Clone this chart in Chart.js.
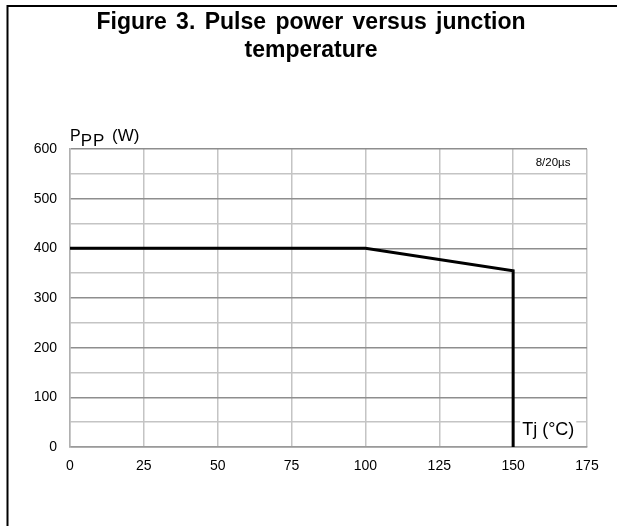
<!DOCTYPE html>
<html>
<head>
<meta charset="utf-8">
<script src="https://cdn.jsdelivr.net/npm/chart.js@4/dist/chart.umd.min.js"></script>
<style>
  html, body { margin: 0; padding: 0; background: #ffffff; }
  #wrap { width: 617px; height: 526px; position: relative; }
</style>
</head>
<body>
<div id="wrap"><canvas id="c" width="617" height="526"></canvas></div>
<script>
// ---- data ----
const titleLines = ["Figure 3. Pulse power versus junction", "temperature"];
const tempC = [0, 100, 150, 150];          // junction temperature (°C)
const pulsePowerW = [400, 400, 355, 0];    // pulse power Ppp (W)
const xTickValues = [0, 25, 50, 75, 100, 125, 150, 175];
const yTickValues = [0, 100, 200, 300, 400, 500, 600];
const pulseLabel = "8/20µs";
const xAxisLabel = "Tj (°C)";
const yAxisMain = "P";
const yAxisSub = "PP";
const yAxisUnit = " (W)";

const FONT = "'Liberation Sans', Arial, Helvetica, sans-serif";

const points = tempC.map((t, i) => ({ x: t, y: pulsePowerW[i] }));

const decorPlugin = {
  id: 'decor',
  beforeDraw(chart) {
    const ctx = chart.ctx;
    ctx.save();
    ctx.fillStyle = '#ffffff';
    ctx.fillRect(0, 0, chart.width, chart.height);
    // frame (top and left)
    ctx.strokeStyle = '#000000';
    ctx.lineWidth = 2;
    ctx.beginPath();
    ctx.moveTo(617, 6);
    ctx.lineTo(7.5, 6);
    ctx.lineTo(7.5, 526);
    ctx.stroke();
    // title
    ctx.fillStyle = '#000000';
    ctx.font = "bold 23px " + FONT;
    ctx.textAlign = 'center';
    ctx.textBaseline = 'middle';
    try { ctx.wordSpacing = '3px'; } catch (e) {}
    ctx.fillText(titleLines[0], 311, 23);
    try { ctx.wordSpacing = '0px'; } catch (e) {}
    ctx.fillText(titleLines[1], 311, 51);
    ctx.restore();
  },
  afterDatasetsDraw(chart) {
    const ctx = chart.ctx;
    const xs = chart.scales.x, ys = chart.scales.y;
    ctx.save();
    // y axis title with subscript
    ctx.fillStyle = '#000000';
    ctx.textAlign = 'left';
    ctx.textBaseline = 'alphabetic';
    const x0 = xs.getPixelForValue(0);
    ctx.font = "16px " + FONT;
    ctx.fillText(yAxisMain, x0, 141);
    let w = ctx.measureText(yAxisMain).width;
    ctx.font = "17px " + FONT;
    try { ctx.letterSpacing = '1px'; } catch (e) {}
    ctx.fillText(yAxisSub, x0 + w, 146);
    w += ctx.measureText(yAxisSub).width + 2;
    try { ctx.letterSpacing = '0px'; } catch (e) {}
    ctx.font = "17px " + FONT;
    ctx.fillText(yAxisUnit, x0 + w, 141);
    // pulse label centered in the top-right cell
    ctx.font = "11.5px " + FONT;
    ctx.textAlign = 'center';
    ctx.textBaseline = 'middle';
    const cx = (xs.getPixelForValue(150) + xs.getPixelForValue(175)) / 2;
    const cy = (ys.getPixelForValue(600) + ys.getPixelForValue(550)) / 2;
    ctx.fillText(pulseLabel, cx + 3, cy + 1);
    // x axis title with white box
    ctx.font = "18px " + FONT;
    const tw = ctx.measureText(xAxisLabel).width;
    const tx = xs.getPixelForValue(150) + 9;
    const ty = ys.getPixelForValue(50) + 8;
    ctx.fillStyle = '#ffffff';
    ctx.fillRect(tx - 2, ty - 11, tw + 4, 22);
    ctx.fillStyle = '#000000';
    ctx.textAlign = 'left';
    ctx.fillText(xAxisLabel, tx, ty);
    ctx.restore();
  }
};

new Chart(document.getElementById('c'), {
  type: 'line',
  data: {
    datasets: [{
      data: points,
      borderColor: '#000000',
      borderWidth: 3,
      pointRadius: 0,
      fill: false,
      tension: 0
    }]
  },
  options: {
    responsive: false,
    animation: false,
    devicePixelRatio: 1,
    layout: { padding: { left: 20, right: 30, top: 149, bottom: 49 } },
    plugins: { legend: { display: false }, tooltip: { enabled: false }, title: { display: false } },
    scales: {
      x: {
        type: 'linear',
        min: 0, max: 175,
        afterBuildTicks(scale) { scale.ticks = xTickValues.map(v => ({ value: v })); },
        afterFit(scale) { scale.height = 30; },
        grid: { color: '#c4c4c4', lineWidth: 1.5, drawTicks: false },
        border: { color: '#9a9a9a', width: 1.5 },
        ticks: { color: '#000000', font: { family: FONT, size: 14 }, padding: 11, maxRotation: 0 }
      },
      y: {
        type: 'linear',
        min: 0, max: 600,
        afterBuildTicks(scale) {
          const t = [];
          for (let v = 0; v <= 600; v += 50) t.push({ value: v });
          scale.ticks = t;
        },
        afterFit(scale) { scale.width = 50; },
        grid: {
          color: (c) => (c.tick && c.tick.value % 100 === 0) ? '#8e8e8e' : '#c4c4c4',
          lineWidth: 1.5,
          drawTicks: false
        },
        border: { color: '#b0b0b0', width: 1.5 },
        ticks: {
          color: '#000000',
          font: { family: FONT, size: 14 },
          padding: 13,
          callback: (v) => yTickValues.includes(v) ? String(v) : ''
        }
      }
    }
  },
  plugins: [decorPlugin]
});
</script>
</body>
</html>
